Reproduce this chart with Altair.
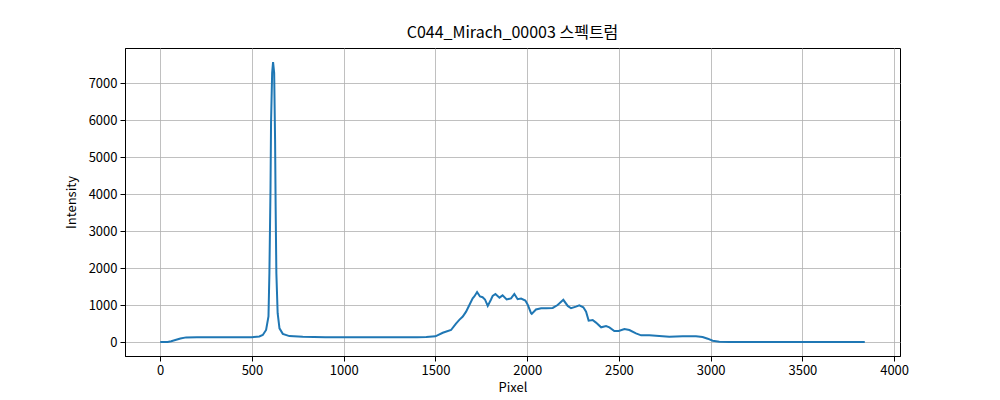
import pandas as pd
import altair as alt

# pixel positions and intensities
pixel = [0, 40, 60, 87, 110, 141, 200, 300, 400, 500, 540, 559, 577, 590, 595,
         601, 604, 610, 615, 621, 626, 629, 633, 640, 650, 668, 704, 777, 900,
         1000, 1100, 1200, 1300, 1400, 1450, 1500, 1540, 1585, 1612, 1630, 1649,
         1667, 1685, 1703, 1712, 1727, 1743, 1757, 1770, 1785, 1803, 1812, 1827,
         1849, 1866, 1888, 1912, 1930, 1948, 1967, 1990, 2003, 2021, 2025, 2048,
         2076, 2103, 2139, 2166, 2197, 2221, 2239, 2266, 2284, 2306, 2321, 2335,
         2357, 2375, 2403, 2430, 2448, 2475, 2499, 2530, 2557, 2593, 2621, 2666,
         2720, 2775, 2847, 2920, 2956, 2984, 3011, 3047, 3102, 3300, 3600, 3840]
intensity = [0, 2, 20, 60, 95, 125, 128, 130, 128, 132, 150, 190, 325, 690, 1860,
             4120, 5930, 7280, 7570, 7280, 5470, 3670, 1860, 780, 370, 220, 160, 140, 132,
             130, 128, 130, 128, 127, 135, 155, 250, 325, 500, 600, 690,
             820, 1000, 1180, 1230, 1350, 1230, 1210, 1150, 976, 1150, 1247, 1300,
             1200, 1260, 1150, 1180, 1300, 1156, 1175, 1120, 1010, 780, 760, 880,
             913, 910, 921, 1000, 1140, 976, 913, 957, 990, 940, 822, 578,
             596, 524, 397, 433, 397, 298, 298, 352, 325, 235, 181, 181,
             163, 145, 154, 154, 136, 90, 36, 9, 0, 0, 0, 0]

df = pd.DataFrame({'pixel': pixel, 'intensity': intensity})

font = "Noto Sans CJK KR"

chart = alt.Chart(df).mark_line(color='#1f77b4', strokeWidth=2).encode(
    x=alt.X('pixel:Q', title='Pixel',
            scale=alt.Scale(domain=[-192, 4032], nice=False, zero=False),
            axis=alt.Axis(values=[0, 500, 1000, 1500, 2000, 2500, 3000, 3500, 4000],
                          format='d', titlePadding=4)),
    y=alt.Y('intensity:Q', title='Intensity',
            scale=alt.Scale(domain=[-378, 7948], nice=False, zero=False),
            axis=alt.Axis(values=[0, 1000, 2000, 3000, 4000, 5000, 6000, 7000],
                          format='d', titlePadding=10)),
).properties(
    title=alt.TitleParams('C044_Mirach_00003 스펙트럼', fontSize=16, fontWeight='normal',
                          font=font, color='black', anchor='middle', offset=7),
    width=775,
    height=308,
    autosize=alt.AutoSizeParams(type='none'),
    padding={'left': 117, 'top': 40, 'right': 92, 'bottom': 44},
).configure_view(
    stroke='black', strokeWidth=1
).configure_axis(
    labelFont=font, titleFont=font, labelFontSize=13, titleFontSize=13,
    titleFontWeight='normal', labelColor='black', titleColor='black',
    gridColor='#b0b0b0', gridWidth=0.8, domainColor='black', domainWidth=1,
    tickColor='black', tickSize=5, labelPadding=3,
)

chart.save("out.html", embed_options={"renderer": "svg", "actions": False})
